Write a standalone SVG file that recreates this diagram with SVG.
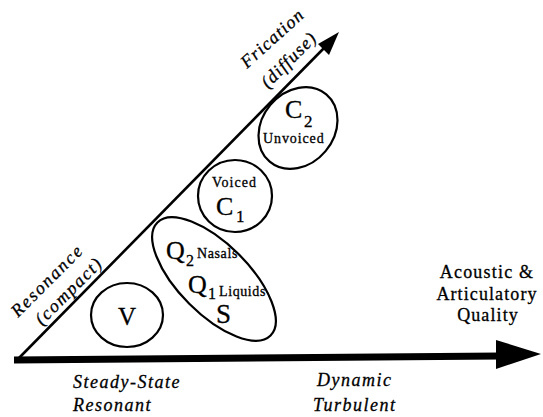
<svg xmlns="http://www.w3.org/2000/svg" width="543" height="417" viewBox="0 0 543 417">
<style>
  .ser { font-family: "Liberation Serif", "Times New Roman", serif; fill: #000; stroke: #000; stroke-width: 0.3; }
  .it { font-style: italic; }
  .ring { fill: none; stroke: #000; stroke-width: 2.2; }
  .axis { fill: #000; }
</style>
<rect width="543" height="417" fill="#fff"/>
<g id="connectors">
  <line x1="14" y1="360" x2="500" y2="356" stroke="#000" stroke-width="7"/>
  <polygon class="axis" points="496,340 541,354 496,369"/>
  <line x1="19" y1="358" x2="328" y2="44" stroke="#000" stroke-width="2.6"/>
  <polygon class="axis" points="339,32 329,55 318,44"/>
</g>
<g id="axis-labels">
  <text class="ser it" font-size="18" letter-spacing="1.2" transform="translate(247,69) rotate(-42)">Frication</text>
  <text class="ser it" font-size="18" letter-spacing="1.2" transform="translate(268,89) rotate(-45)">(diffuse)</text>
  <text class="ser it" font-size="18" letter-spacing="1.8" transform="translate(18,318) rotate(-45)">Resonance</text>
  <text class="ser it" font-size="18" letter-spacing="1.6" transform="translate(42,326) rotate(-45)">(compact)</text>
  <text class="ser it" font-size="18" letter-spacing="1.5" x="73" y="388">Steady-State</text>
  <text class="ser it" font-size="18" letter-spacing="1.5" x="73" y="411">Resonant</text>
  <text class="ser it" font-size="18" letter-spacing="1.5" x="317" y="386">Dynamic</text>
  <text class="ser it" font-size="18" letter-spacing="1.5" x="313" y="411">Turbulent</text>
  <text class="ser" font-size="18" letter-spacing="1.2" x="487" y="278" text-anchor="middle">Acoustic &amp;</text>
  <text class="ser" font-size="18" letter-spacing="1.1" x="487" y="300" text-anchor="middle">Articulatory</text>
  <text class="ser" font-size="18" letter-spacing="1.1" x="488" y="321" text-anchor="middle">Quality</text>
</g>
<g id="node-V">
  <ellipse class="ring" cx="127" cy="315" rx="36" ry="32"/>
  <text class="ser" font-size="25" x="127" y="325" text-anchor="middle">V</text>
</g>
<g id="node-Q">
  <ellipse class="ring" cx="214" cy="279" rx="80" ry="35" transform="rotate(45 214 279)"/>
  <text class="ser" font-size="26" x="166" y="259">Q</text>
  <text class="ser" font-size="16" x="186" y="266">2</text>
  <text class="ser" font-size="14" letter-spacing="0.6" x="197" y="258">Nasals</text>
  <text class="ser" font-size="26" x="188" y="293">Q</text>
  <text class="ser" font-size="16" x="208" y="299">1</text>
  <text class="ser" font-size="14" letter-spacing="0.6" x="219" y="296">Liquids</text>
  <text class="ser" font-size="27" x="216" y="323">S</text>
</g>
<g id="node-C1">
  <ellipse class="ring" cx="235" cy="196" rx="37" ry="36"/>
  <text class="ser" font-size="14" letter-spacing="1.1" x="212" y="187">Voiced</text>
  <text class="ser" font-size="26" x="216" y="215">C</text>
  <text class="ser" font-size="17" x="236" y="222">1</text>
</g>
<g id="node-C2">
  <ellipse class="ring" cx="298" cy="128" rx="44" ry="36" transform="rotate(-50 298 128)"/>
  <text class="ser" font-size="26" x="285" y="118">C</text>
  <text class="ser" font-size="17" x="304" y="127">2</text>
  <text class="ser" font-size="14" letter-spacing="0.9" x="263" y="143">Unvoiced</text>
</g>
</svg>
